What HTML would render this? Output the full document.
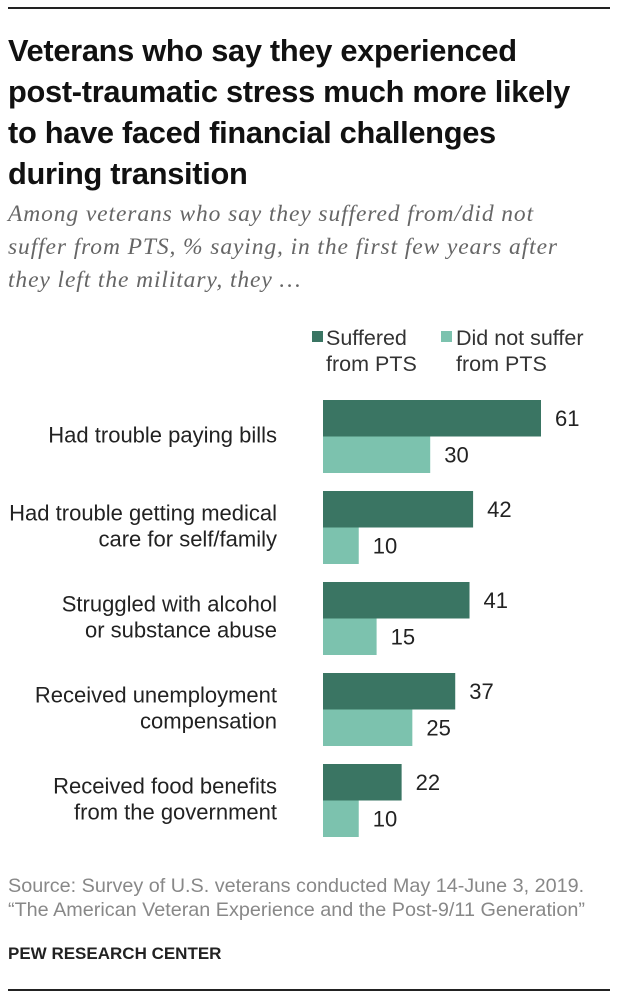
<!DOCTYPE html>
<html><head><meta charset="utf-8">
<style>
body{margin:0;width:618px;height:1000px;background:#fff;font-family:"Liberation Sans",sans-serif;position:relative;overflow:hidden}
.rule{position:absolute;left:8px;width:602px;height:2px;background:#222}
#title{position:absolute;left:8px;top:30px;font-size:30.8px;font-weight:bold;line-height:41px;color:#111;letter-spacing:-0.3px;white-space:nowrap}
#sub{position:absolute;left:8px;top:198px;font-family:"Liberation Serif",serif;font-style:italic;font-size:23.5px;line-height:33px;color:#666;letter-spacing:0.9px;white-space:nowrap}
#src{position:absolute;left:8px;top:874px;font-size:19.8px;line-height:24px;color:#888;white-space:nowrap}
#pew{position:absolute;left:8px;top:944px;font-size:17px;font-weight:bold;color:#222}
</style></head><body>
<div class="rule" style="top:7px"></div>
<div id="title">Veterans who say they experienced<br>post-traumatic stress much more likely<br>to have faced financial challenges<br>during transition</div>
<div id="sub">Among veterans who say they suffered from/did not<br>suffer from PTS, % saying, in the first few years after<br>they left the military, they …</div>
<svg id="chart" width="618" height="860" style="position:absolute;left:0;top:0"></svg>
<div id="src">Source: Survey of U.S. veterans conducted May 14-June 3, 2019.<br>“The American Veteran Experience and the Post-9/11 Generation”</div>
<div id="pew">PEW RESEARCH CENTER</div>
<div class="rule" style="top:989px"></div>
<script>
const categories=[["Had trouble paying bills"],["Had trouble getting medical","care for self/family"],["Struggled with alcohol","or substance abuse"],["Received unemployment","compensation"],["Received food benefits","from the government"]];
const ptsValues=[61,42,41,37,22];
const noPtsValues=[30,10,15,25,10];
const dark="#3a7563",light="#7cc2ae";
const svg=document.getElementById('chart');
const NS="http://www.w3.org/2000/svg";
const x0=323,scale=218/61;
const xs=v=>v*scale;
const groupY=i=>400+i*91;
const barH=36.5;
function el(t,a){const e=document.createElementNS(NS,t);for(const k in a)e.setAttribute(k,a[k]);svg.appendChild(e);return e;}
function txt(s,x,y,anchor,size,fill){const t=el('text',{x:x,y:y,'text-anchor':anchor,'font-size':size,fill:fill,'font-family':'Liberation Sans, sans-serif'});t.textContent=s;return t;}
const l1=el('rect',{x:312,y:331,width:11,height:11,fill:dark});


const l1t=txt('Suffered',326,345,'start',21.5,'#333');txt('from PTS',326,371,'start',21.5,'#333');


const l2=el('rect',{x:441,y:331,width:11,height:11,fill:light});


const l2t=txt('Did not suffer',456,345,'start',21.5,'#333');txt('from PTS',456,371,'start',21.5,'#333');


categories.forEach((c,i)=>{
  const y=groupY(i);
  const lines=c;
  const cy=y+barH-1;
  lines.forEach((s,j)=>{
    const t=txt(s,277,(lines.length===1?cy+7:cy-6+j*26),'end',22,'#222');
    
    
  });
  const b1=el('rect',{x:x0,y:y,width:xs(ptsValues[i]),height:barH,fill:dark});
  
  
  const b2=el('rect',{x:x0,y:y+barH,width:xs(noPtsValues[i]),height:barH,fill:light});
  
  
  const v1=txt(String(ptsValues[i]),x0+xs(ptsValues[i])+14,y+26,'start',22,'#222');
  
  
  const v2=txt(String(noPtsValues[i]),x0+xs(noPtsValues[i])+14,y+barH+26,'start',22,'#222');
  
  
});
</script>
</body></html>
